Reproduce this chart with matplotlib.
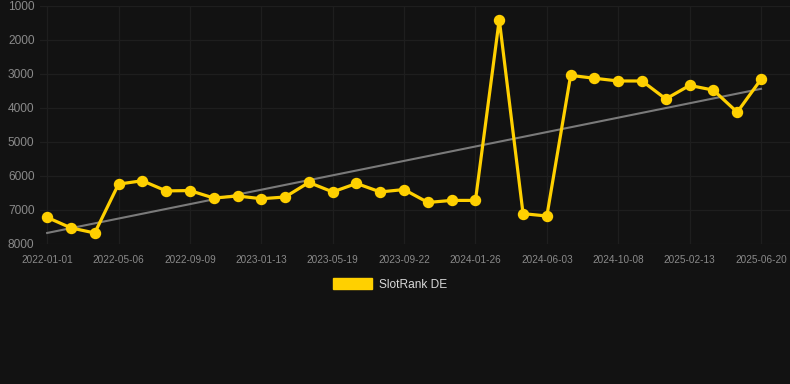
import matplotlib
matplotlib.use("Agg")
import matplotlib.pyplot as plt
import numpy as np
from matplotlib.patches import Patch

plt.rcParams["font.family"] = ["Liberation Sans", "DejaVu Sans"]

tick_labels = ["2022-01-01", "2022-05-06", "2022-09-09", "2023-01-13", "2023-05-19",
               "2023-09-22", "2024-01-26", "2024-06-03", "2024-10-08", "2025-02-13",
               "2025-06-20"]
ranks = [7230, 7540, 7690, 6250, 6150, 6450, 6440, 6660, 6600, 6680,
         6630, 6200, 6480, 6230, 6480, 6410, 6790, 6730, 6730, 1400,
         7120, 7190, 3045, 3130, 3210, 3210, 3740, 3340, 3480, 4130,
         3160]
series_name = "SlotRank DE"

BG = "#121212"
YELLOW = "#FFD000"
GRID = "#1e1e1e"
TXT = "#8a8a8a"

fig = plt.figure(figsize=(7.9, 3.84), dpi=100, facecolor=BG)
ax = fig.add_axes([40/790, 1-243.5/384, 1-40/790, (243.5-6)/384])
ax.set_facecolor(BG)

x = np.arange(len(ranks))
y = np.array(ranks, dtype=float)

coef = np.polyfit(x, y, 1)
ax.plot(x, np.polyval(coef, x), color="#7a7a7a", lw=1.5, zorder=2)

ax.plot(x, y, color=YELLOW, lw=2.3, marker="o", ms=7.2, zorder=3,
        solid_joinstyle="miter")

ax.set_ylim(8000, 1000)
ax.set_xlim(-0.3, 30 + 29/23.8)
ax.set_yticks([1000, 2000, 3000, 4000, 5000, 6000, 7000, 8000])
ax.set_xticks(np.arange(0, len(ranks), 3))
ax.set_xticklabels(tick_labels)
ax.tick_params(axis="y", colors=TXT, labelsize=8.6, length=0, pad=4)
ax.tick_params(axis="x", colors=TXT, labelsize=7.2, length=0, pad=8.5)
ax.grid(True, color=GRID, lw=0.9)
for s in ax.spines.values():
    s.set_visible(False)

handle = Patch(facecolor=YELLOW, edgecolor=YELLOW)
fig.legend([handle], [series_name], loc="center", bbox_to_anchor=(390/790, 1-284.5/384),
           frameon=False, fontsize=8.6, labelcolor="#d8d8d8",
           handlelength=3.3, handleheight=0.95, handletextpad=0.55)

fig.savefig("out.png", dpi=100, facecolor=BG)
